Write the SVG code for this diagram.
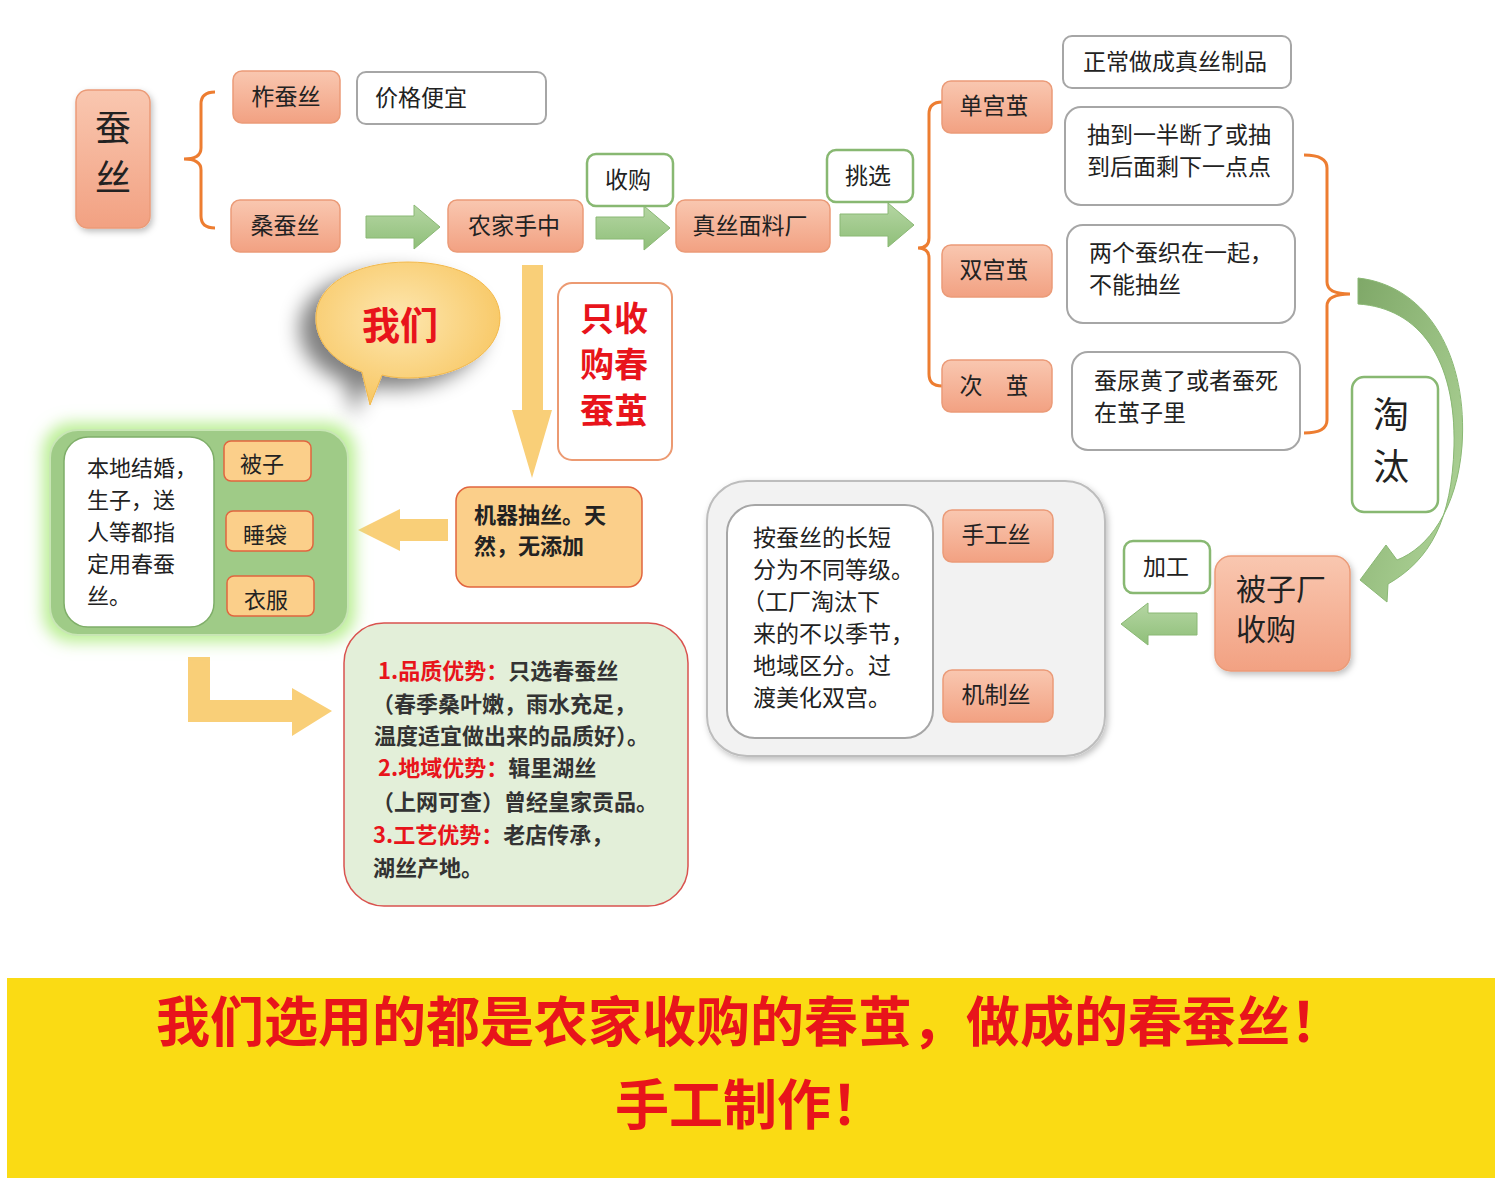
<svg xmlns="http://www.w3.org/2000/svg" width="1500" height="1182" viewBox="0 0 1500 1182">
<defs>
<linearGradient id="og" x1="0" y1="0" x2="0" y2="1"><stop offset="0" stop-color="#f9c7b0"/><stop offset="1" stop-color="#f2a182"/></linearGradient>
<linearGradient id="gg" x1="0" y1="0" x2="0" y2="1"><stop offset="0" stop-color="#b5d6a3"/><stop offset="1" stop-color="#8fbf79"/></linearGradient>
<linearGradient id="cg" x1="0" y1="0" x2="1" y2="1"><stop offset="0" stop-color="#7fa868"/><stop offset="1" stop-color="#b3d89c"/></linearGradient>
<radialGradient id="bub" cx="0.45" cy="0.4" r="0.7"><stop offset="0" stop-color="#fde7b0"/><stop offset="1" stop-color="#f7c257"/></radialGradient>
<filter id="sh" x="-20%" y="-20%" width="140%" height="140%"><feDropShadow dx="2" dy="3" stdDeviation="3" flood-color="#000" flood-opacity="0.25"/></filter>
<filter id="glow2" x="-20%" y="-20%" width="140%" height="140%"><feMorphology in="SourceAlpha" operator="dilate" radius="6" result="d"/><feGaussianBlur in="d" stdDeviation="8" result="b"/><feFlood flood-color="#b9ee92"/><feComposite operator="in" in2="b"/><feMerge><feMergeNode/><feMergeNode in="SourceGraphic"/></feMerge></filter>
<filter id="bsh" x="-40%" y="-40%" width="180%" height="180%"><feGaussianBlur in="SourceAlpha" stdDeviation="10"/><feOffset dx="-16" dy="10"/><feComponentTransfer><feFuncA type="linear" slope="0.5"/></feComponentTransfer><feMerge><feMergeNode/><feMergeNode in="SourceGraphic"/></feMerge></filter>
</defs>
<style>
text{font-family:"Noto Sans CJK SC","Noto Sans",sans-serif;fill:#222;}
.ob{fill:url(#og);stroke:#eb9b78;stroke-width:1.5;}
.wb{fill:#fff;stroke:#a6a6a6;stroke-width:2;}
.gb{fill:#fff;stroke:#88b872;stroke-width:2.5;}
.yb{fill:#fbcf8a;stroke:#e1653f;stroke-width:1.5;}
.ga{fill:url(#gg);stroke:#8ab874;stroke-width:1;}
.ya{fill:#f9cf78;stroke:none;}
.br{fill:none;stroke:#ed7d31;stroke-width:3;}
.bk{fill:none;stroke:#111;stroke-width:3;}
.t22{font-size:23px;}
.t21{font-size:22px;}
.c{text-anchor:middle;}
.red{fill:#e8141b;}
.adv{font-size:22px;font-weight:bold;fill:#333;}
</style>
<rect width="1500" height="1182" fill="#fff"/>

<g id="connectors">
<path class="br" d="M215,92 Q201,92 201,104 L201,148 Q201,159 184,159 Q201,159 201,170 L201,216 Q201,228 215,228"/>
<path class="ga" d="M366,216 L414,216 L414,205 L440,227 L414,249 L414,238 L366,238 Z"/>
<path class="ga" d="M596,217 L644,217 L644,206 L670,228 L644,250 L644,239 L596,239 Z"/>
<path class="ga" d="M840,214 L888,214 L888,203 L914,225 L888,247 L888,236 L840,236 Z"/>
<path class="br" d="M942,102 Q929,102 929,114 L929,238 Q929,248 918,248 Q929,248 929,258 L929,374 Q929,386 942,386"/>
<path class="br" d="M1304,155 Q1327,155 1327,168 L1327,282 Q1327,294 1350,294 Q1327,294 1327,306 L1327,420 Q1327,433 1304,433"/>
<path d="M1358,278 C1430,286 1468,360 1462,446 C1457,510 1428,548 1397,560 L1386,545 L1360,580 L1387,602 L1388,584 C1430,560 1452,520 1454,446 C1456,360 1420,308 1358,304 Z" fill="url(#cg)" stroke="#8ab874" stroke-width="1"/>
<path class="ga" d="M1197,613 L1148,613 L1148,603 L1121,624 L1148,645 L1148,635 L1197,635 Z"/>
<path class="br" d="M1063,538 Q1085,538 1085,550 L1085,608 Q1085,620 1104,620 Q1085,620 1085,632 L1085,688 Q1085,700 1063,700"/>
<path class="ya" d="M522,265 L543,265 L543,410 L552,410 L532,478 L512,410 L522,410 Z"/>
<path class="ya" d="M448,519 L400,519 L400,509 L358,530 L400,551 L400,541 L448,541 Z"/>
<path class="bk" d="M323,461 L333,461 L333,593 L323,593 M333,527 L342,527"/>
<path class="ya" d="M188,657 L210,657 L210,700 L292,700 L292,688 L332,711 L292,736 L292,722 L188,722 Z"/>
</g>

<g id="n-cansi"><rect class="ob" x="76" y="90" width="74" height="138" rx="12" filter="url(#sh)"/><text x="113" y="141" font-size="36" class="c">蚕</text><text x="113" y="191" font-size="36" class="c">丝</text></g>
<g id="n-zuo"><rect class="ob" x="233" y="71" width="107" height="52" rx="9"/><text x="286" y="105" class="t22 c">柞蚕丝</text></g>
<g id="n-price"><rect class="wb" x="357" y="72" width="189" height="52" rx="9"/><text x="375" y="106" class="t22">价格便宜</text></g>
<g id="n-sang"><rect class="ob" x="231" y="200" width="109" height="52" rx="9"/><text x="285" y="234" class="t22 c">桑蚕丝</text></g>
<g id="n-farm"><rect class="ob" x="448" y="200" width="135" height="52" rx="9"/><text x="514" y="234" class="t22 c">农家手中</text></g>
<g id="n-buy"><rect class="gb" x="587" y="154" width="86" height="52" rx="9"/><text x="628" y="188" class="t22 c">收购</text></g>
<g id="n-factory"><rect class="ob" x="676" y="200" width="154" height="52" rx="9"/><text x="750" y="234" class="t22 c">真丝面料厂</text></g>
<g id="n-pick"><rect class="gb" x="827" y="150" width="86" height="52" rx="9"/><text x="868" y="184" class="t22 c">挑选</text></g>
<g id="n-single"><rect class="ob" x="942" y="81" width="110" height="52" rx="9"/><text x="994" y="114" class="t22 c">单宫茧</text></g>
<g id="n-double"><rect class="ob" x="942" y="245" width="110" height="52" rx="9"/><text x="994" y="278" class="t22 c">双宫茧</text></g>
<g id="n-poor"><rect class="ob" x="942" y="360" width="110" height="52" rx="9"/><text x="994" y="394" class="t22 c">次　茧</text></g>
<g id="n-normal"><rect class="wb" x="1063" y="36" width="228" height="52" rx="9"/><text x="1175" y="70" class="t22 c">正常做成真丝制品</text></g>
<g id="n-broken"><rect class="wb" x="1065" y="107" width="228" height="98" rx="16"/><text x="1087" y="143" class="t22">抽到一半断了或抽</text><text x="1087" y="175" class="t22">到后面剩下一点点</text></g>
<g id="n-two"><rect class="wb" x="1067" y="225" width="228" height="98" rx="16"/><text x="1089" y="261" class="t22">两个蚕织在一起，</text><text x="1089" y="293" class="t22">不能抽丝</text></g>
<g id="n-dead"><rect class="wb" x="1072" y="352" width="228" height="98" rx="16"/><text x="1094" y="389" class="t22">蚕尿黄了或者蚕死</text><text x="1094" y="421" class="t22">在茧子里</text></g>
<g id="n-out"><rect class="gb" x="1352" y="377" width="86" height="135" rx="12"/><text x="1391" y="428" font-size="36" class="c">淘</text><text x="1391" y="480" font-size="36" class="c">汰</text></g>
<g id="n-quilt-factory"><rect class="ob" x="1215" y="556" width="135" height="115" rx="16" filter="url(#sh)"/><text x="1236" y="600" font-size="30">被子厂</text><text x="1236" y="640" font-size="30">收购</text></g>
<g id="n-process"><rect class="gb" x="1124" y="541" width="86" height="52" rx="9"/><text x="1166" y="575" class="t22 c">加工</text></g>
<g id="n-grade"><rect x="707" y="481" width="398" height="275" rx="40" fill="#f2f2f2" stroke="#bdbdbd" stroke-width="2" filter="url(#sh)"/><rect class="wb" x="727" y="505" width="206" height="233" rx="28"/>
<text x="753" y="546" class="t22">按蚕丝的长短</text><text x="753" y="578" class="t22">分为不同等级。</text><text x="742" y="610" class="t22">（工厂淘汰下</text><text x="753" y="642" class="t22">来的不以季节，</text><text x="753" y="674" class="t22">地域区分。过</text><text x="753" y="706" class="t22">渡美化双宫。</text></g>
<g id="n-hand"><rect class="ob" x="943" y="510" width="110" height="52" rx="9"/><text x="996" y="543" class="t22 c">手工丝</text></g>
<g id="n-machine"><rect class="ob" x="943" y="670" width="110" height="52" rx="9"/><text x="996" y="703" class="t22 c">机制丝</text></g>
<g id="n-we"><g filter="url(#bsh)"><path d="M362,372 C330,360 316,340 316,318 C316,284 356,262 408,262 C460,262 500,284 500,318 C500,352 460,378 408,378 C398,378 390,377 382,375 L370,405 Z" fill="url(#bub)" stroke="#f2b84a" stroke-width="1"/></g><text x="400" y="339" font-size="38" font-weight="bold" class="c red">我们</text></g>
<g id="n-spring"><rect x="558" y="283" width="114" height="177" rx="14" fill="#fff" stroke="#ec9a72" stroke-width="2"/><text x="614" y="331" font-size="34" font-weight="bold" class="c red">只收</text><text x="614" y="377" font-size="34" font-weight="bold" class="c red">购春</text><text x="614" y="423" font-size="34" font-weight="bold" class="c red">蚕茧</text></g>
<g id="n-reel"><rect class="yb" x="456" y="487" width="186" height="100" rx="14"/><text x="474" y="523" font-size="22" font-weight="bold">机器抽丝。天</text><text x="474" y="554" font-size="22" font-weight="bold">然，无添加</text></g>
<g id="n-use"><rect x="50" y="430" width="298" height="205" rx="28" fill="#9fcb87" stroke="#c8e6b4" stroke-width="2" filter="url(#glow2)"/><rect x="64" y="437" width="150" height="190" rx="24" fill="#fff" stroke="#7fae69" stroke-width="1.5"/>
<text x="87" y="476" class="t21">本地结婚，</text><text x="87" y="508" class="t21">生子，送</text><text x="87" y="540" class="t21">人等都指</text><text x="87" y="572" class="t21">定用春蚕</text><text x="87" y="604" class="t21">丝。</text></g>
<g id="n-quilt"><rect class="yb" x="224" y="441" width="87" height="40" rx="7"/><text x="262" y="472" class="t21 c">被子</text></g>
<g id="n-bag"><rect class="yb" x="226" y="511" width="87" height="40" rx="7"/><text x="265" y="543" class="t21 c">睡袋</text></g>
<g id="n-cloth"><rect class="yb" x="227" y="576" width="87" height="40" rx="7"/><text x="266" y="608" class="t21 c">衣服</text></g>
<g id="n-adv"><rect x="344" y="623" width="344" height="283" rx="40" fill="#e3efd9" stroke="#d9534f" stroke-width="1.5"/>
<text x="378" y="679" class="adv"><tspan class="red">1.品质优势：</tspan><tspan>只选春蚕丝</tspan></text>
<text x="372" y="712" class="adv">（春季桑叶嫩，雨水充足，</text>
<text x="374" y="744" class="adv">温度适宜做出来的品质好）。</text>
<text x="378" y="776" class="adv"><tspan class="red">2.地域优势：</tspan><tspan>辑里湖丝</tspan></text>
<text x="372" y="810" class="adv">（上网可查）曾经皇家贡品。</text>
<text x="373" y="843" class="adv"><tspan class="red">3.工艺优势：</tspan><tspan>老店传承，</tspan></text>
<text x="373" y="876" class="adv">湖丝产地。</text></g>
<g id="banner"><rect x="7" y="978" width="1488" height="200" fill="#fadb14"/><text x="750" y="1042" font-size="54" font-weight="bold" class="c red">我们选用的都是农家收购的春茧，做成的春蚕丝！</text><text x="750" y="1125" font-size="54" font-weight="bold" class="c red">手工制作！</text></g>
</svg>
